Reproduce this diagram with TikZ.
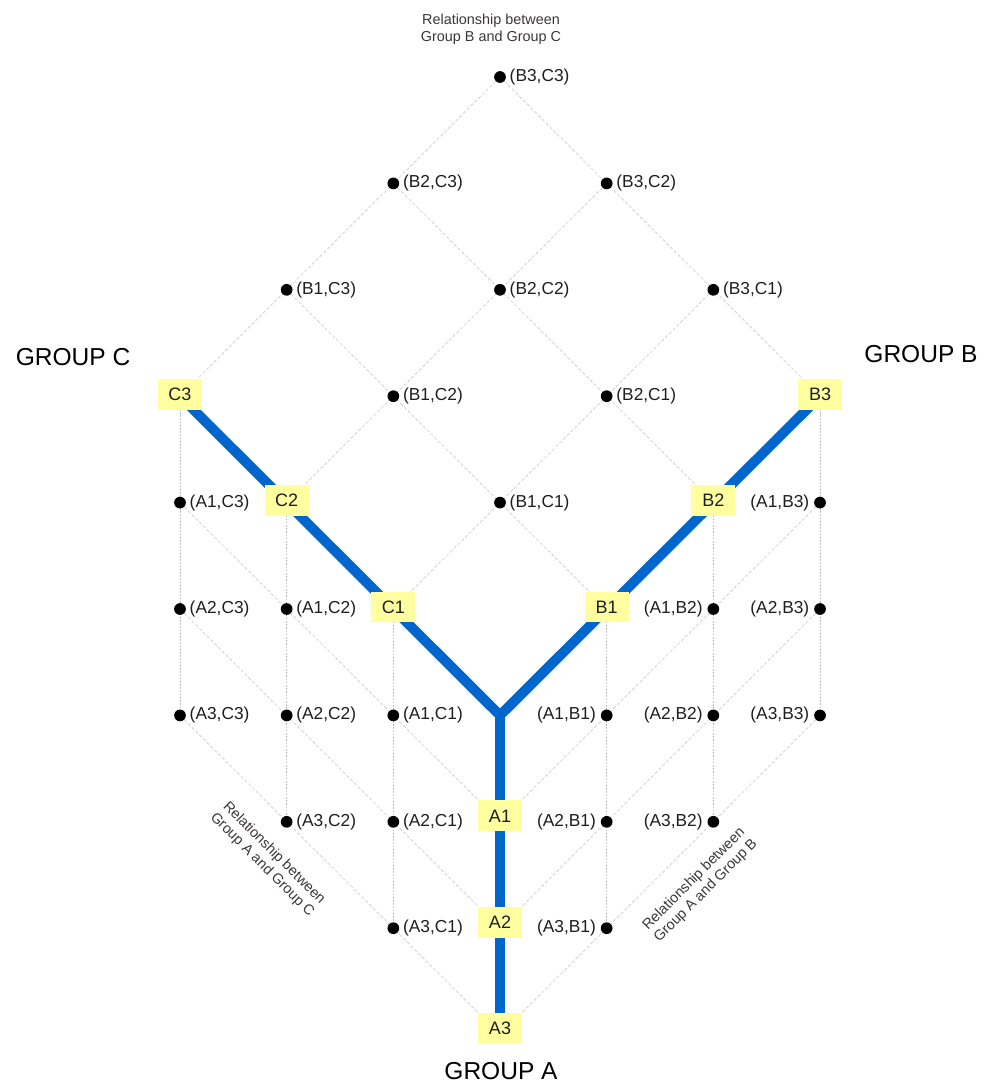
\documentclass[tikz,border=0pt]{standalone}
\usepackage{fontspec}
\setmainfont{Liberation Sans}
\usetikzlibrary{backgrounds}
\definecolor{bluestem}{RGB}{0,102,204}
\definecolor{boxyellow}{RGB}{255,255,160}
\definecolor{gridgray}{RGB}{185,185,185}
\definecolor{textdark}{RGB}{30,30,30}
\definecolor{reldark}{RGB}{60,55,55}
\begin{document}
\begin{tikzpicture}[x=0.75pt,y=-0.75pt,
  dotnode/.style={circle,fill=black,inner sep=0pt,minimum size=8.8pt},
  lblR/.style={anchor=west,inner sep=0pt,xshift=7.1pt,font=\fontsize{13}{15}\selectfont,text=textdark},
  lblL/.style={anchor=east,inner sep=0pt,xshift=-7.9pt,font=\fontsize{13}{15}\selectfont,text=textdark},
  grpbox/.style={fill=boxyellow,minimum width=33pt,minimum height=23pt,inner sep=0pt,font=\fontsize{13.5}{15}\selectfont,text=textdark},
  grptitle/.style={inner sep=0pt,font=\fontsize{18.4}{22}\selectfont,text=black},
  reltext/.style={align=center,inner sep=0pt,font=\fontsize{10.8}{12.5}\selectfont,text=reldark},
  gridv/.style={draw=gridgray,line width=0.5pt,dash pattern=on 1.2pt off 1.2pt},
  gridd/.style={draw=gridgray!75,line width=0.5pt,dash pattern=on 2.5pt off 1.5pt},
  stem/.style={draw=bluestem,line width=7.5pt,line join=miter}
]
\useasboundingbox (0,0) rectangle (983,1086);

% grid positions of the group boxes
\foreach \i in {1,2,3} {
  \coordinate (pc\i) at ({180+106.67*(3-\i)},{77+106.4*(6-\i)});
  \coordinate (pb\i) at ({180+106.67*(3+\i)},{77+106.4*(6-\i)});
  \coordinate (pa\i) at ({500},{77+106.4*(6+\i)});
}
\coordinate (J) at (500,{77+106.4*6});

% dots B-C
\foreach \i in {1,2,3} {
  \foreach \j in {1,2,3} {
    \node[dotnode] (bc\j\i) at ({180+106.67*(3+\j-\i)},{77+106.4*(6-\i-\j)}) {};
    \node[lblR] (tbc\j\i) at (bc\j\i) {(B\j,C\i)};
  }
}
% dots A-C
\foreach \k in {1,2,3} {
  \foreach \i in {1,2,3} {
    \node[dotnode] (ac\k\i) at ({180+106.67*(3-\i)},{77+106.4*(6-\i+\k)}) {};
    \node[lblR] (tac\k\i) at (ac\k\i) {(A\k,C\i)};
  }
}
% dots A-B
\foreach \k in {1,2,3} {
  \foreach \j in {1,2,3} {
    \node[dotnode] (ab\k\j) at ({180+106.67*(3+\j)},{77+106.4*(6-\j+\k)}) {};
    \node[lblL] (tab\k\j) at (ab\k\j) {(A\k,B\j)};
  }
}

% group boxes
\foreach \i in {1,2,3} {
  \node[grpbox,yshift=1.5pt] (c\i) at (pc\i) {C\i};
  \node[grpbox,yshift=1.5pt] (b\i) at (pb\i) {B\i};
  \node[grpbox,yshift=4.5pt] (a\i) at (pa\i) {A\i};
}

\begin{pgfonlayer}{background}
  % upper lattice
  \foreach \i in {1,2,3} {
    \draw[gridd] (pc\i) -- (bc3\i.center);
    \draw[gridd] (pb\i) -- (bc\i3.center);
  }
  % lower C side
  \foreach \i in {1,2,3} {
    \draw[gridv] (pc\i) -- (ac3\i.center);
    \draw[gridd] (pa\i) -- (ac\i3.center);
  }
  % lower B side
  \foreach \j in {1,2,3} {
    \draw[gridv] (pb\j) -- (ab3\j.center);
    \draw[gridd] (pa\j) -- (ab\j3.center);
  }
  % blue stem
  \draw[stem] (pc3) -- (J) -- (pb3);
  \draw[stem] (J) -- (pa3);
\end{pgfonlayer}

% titles
\node[grptitle] (grpc) at (73,357.5) {GROUP C};
\node[grptitle] (grpb) at (921,354) {GROUP B};
\node[grptitle] (grpa) at (501,1071) {GROUP A};

\node[reltext] (relbc) at (491,29) {Relationship between\\Group B and Group C};
\node[reltext,rotate=-45] (relac) at (268,859) {Relationship between\\Group A and Group C};
\node[reltext,rotate=45] (relab) at (700,885) {Relationship between\\Group A and Group B};
\end{tikzpicture}
\end{document}
